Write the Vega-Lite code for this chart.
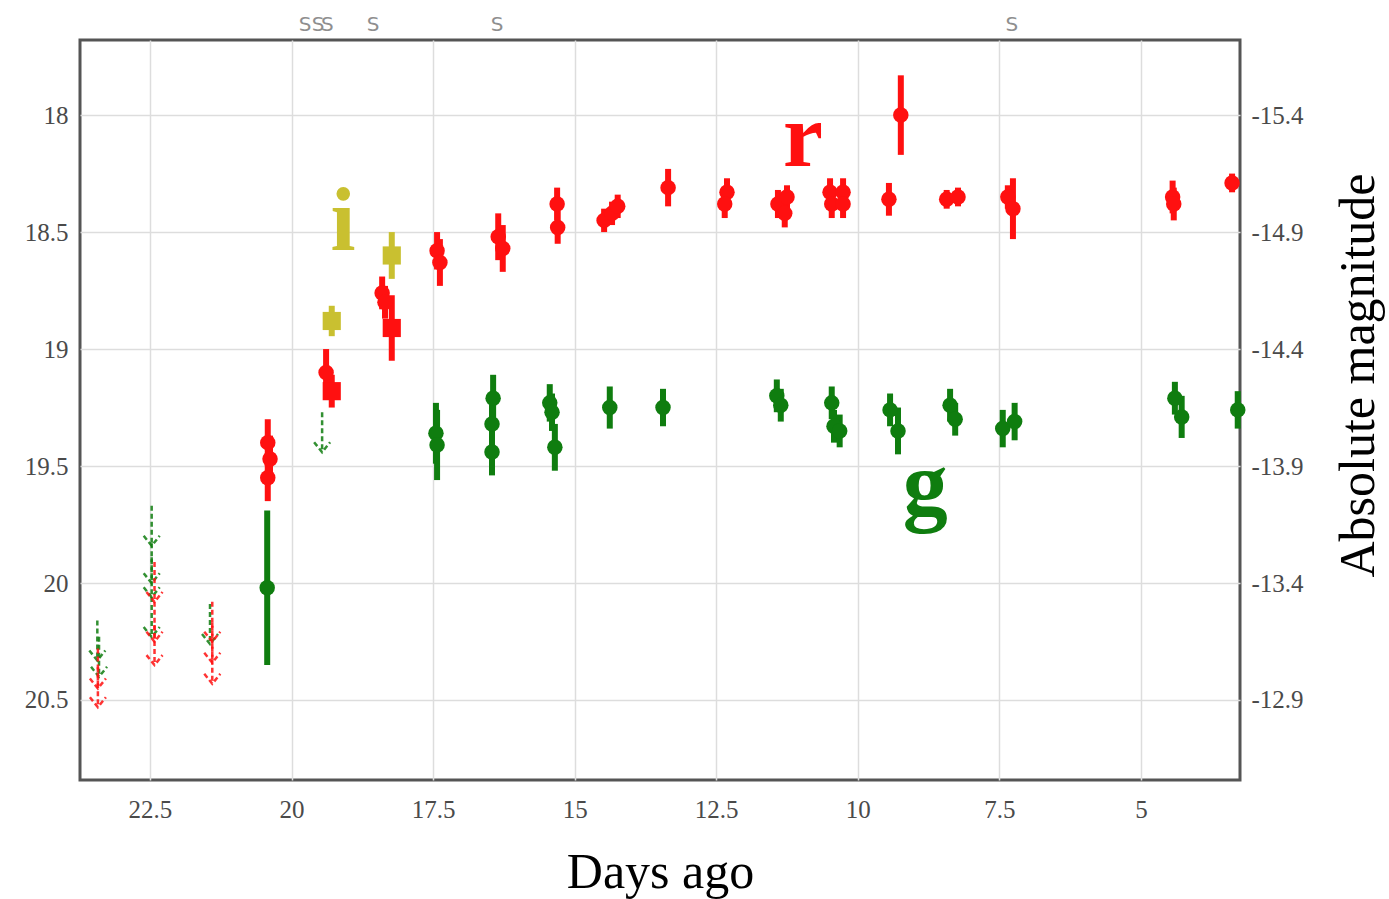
{
  "$schema": "https://vega.github.io/schema/vega-lite/v6.json",
  "width": 1160,
  "height": 740,
  "autosize": {"type": "none"},
  "padding": {"left": 80, "top": 40, "right": 149, "bottom": 119},
  "background": "white",
  "config": {
    "view": {"stroke": "#555", "strokeWidth": 3},
    "axis": {
      "labelFont": "Liberation Serif",
      "titleFont": "Liberation Serif",
      "labelColor": "#4a4a4a",
      "labelFontSize": 25,
      "titleFontSize": 50,
      "titleColor": "#000",
      "titleFontWeight": "normal",
      "gridColor": "#dddddd",
      "gridWidth": 1.5,
      "domain": false,
      "ticks": false
    }
  },
  "datasets": {
    "det": [
      {"day": 19.29, "mag": 18.88, "err": 0.065, "band": "i", "kind": "sq"},
      {"day": 18.23, "mag": 18.60, "err": 0.10, "band": "i", "kind": "sq"},
      {"day": 20.43, "mag": 20.02, "err": 0.33, "band": "g", "kind": "ci"},
      {"day": 17.45, "mag": 19.36, "err": 0.13, "band": "g", "kind": "ci"},
      {"day": 17.43, "mag": 19.41, "err": 0.15, "band": "g", "kind": "ci"},
      {"day": 16.44, "mag": 19.21, "err": 0.10, "band": "g", "kind": "ci"},
      {"day": 16.46, "mag": 19.32, "err": 0.10, "band": "g", "kind": "ci"},
      {"day": 16.46, "mag": 19.44, "err": 0.10, "band": "g", "kind": "ci"},
      {"day": 15.44, "mag": 19.23, "err": 0.08, "band": "g", "kind": "ci"},
      {"day": 15.40, "mag": 19.27, "err": 0.08, "band": "g", "kind": "ci"},
      {"day": 15.35, "mag": 19.42, "err": 0.10, "band": "g", "kind": "ci"},
      {"day": 14.38, "mag": 19.25, "err": 0.09, "band": "g", "kind": "ci"},
      {"day": 13.44, "mag": 19.25, "err": 0.08, "band": "g", "kind": "ci"},
      {"day": 11.43, "mag": 19.20, "err": 0.07, "band": "g", "kind": "ci"},
      {"day": 11.36, "mag": 19.24, "err": 0.07, "band": "g", "kind": "ci"},
      {"day": 10.46, "mag": 19.23, "err": 0.07, "band": "g", "kind": "ci"},
      {"day": 10.42, "mag": 19.33, "err": 0.07, "band": "g", "kind": "ci"},
      {"day": 10.32, "mag": 19.35, "err": 0.07, "band": "g", "kind": "ci"},
      {"day": 9.43, "mag": 19.26, "err": 0.07, "band": "g", "kind": "ci"},
      {"day": 9.29, "mag": 19.35, "err": 0.10, "band": "g", "kind": "ci"},
      {"day": 8.37, "mag": 19.24, "err": 0.07, "band": "g", "kind": "ci"},
      {"day": 8.28, "mag": 19.30, "err": 0.07, "band": "g", "kind": "ci"},
      {"day": 7.44, "mag": 19.34, "err": 0.08, "band": "g", "kind": "ci"},
      {"day": 7.23, "mag": 19.31, "err": 0.08, "band": "g", "kind": "ci"},
      {"day": 4.40, "mag": 19.21, "err": 0.07, "band": "g", "kind": "ci"},
      {"day": 4.28, "mag": 19.29, "err": 0.09, "band": "g", "kind": "ci"},
      {"day": 3.29, "mag": 19.26, "err": 0.08, "band": "g", "kind": "ci"},
      {"day": 20.42, "mag": 19.40, "err": 0.10, "band": "r", "kind": "ci"},
      {"day": 20.38, "mag": 19.47, "err": 0.10, "band": "r", "kind": "ci"},
      {"day": 20.42, "mag": 19.55, "err": 0.10, "band": "r", "kind": "ci"},
      {"day": 19.39, "mag": 19.10, "err": 0.10, "band": "r", "kind": "ci"},
      {"day": 19.29, "mag": 19.18, "err": 0.07, "band": "r", "kind": "sq"},
      {"day": 18.40, "mag": 18.76, "err": 0.07, "band": "r", "kind": "ci"},
      {"day": 18.35, "mag": 18.80, "err": 0.07, "band": "r", "kind": "ci"},
      {"day": 18.23, "mag": 18.91, "err": 0.14, "band": "r", "kind": "sq"},
      {"day": 17.43, "mag": 18.58, "err": 0.08, "band": "r", "kind": "ci"},
      {"day": 17.38, "mag": 18.63, "err": 0.10, "band": "r", "kind": "ci"},
      {"day": 16.35, "mag": 18.52, "err": 0.10, "band": "r", "kind": "ci"},
      {"day": 16.27, "mag": 18.57, "err": 0.10, "band": "r", "kind": "ci"},
      {"day": 15.31, "mag": 18.38, "err": 0.07, "band": "r", "kind": "ci"},
      {"day": 15.30, "mag": 18.48, "err": 0.07, "band": "r", "kind": "ci"},
      {"day": 14.48, "mag": 18.45, "err": 0.05, "band": "r", "kind": "ci"},
      {"day": 14.34, "mag": 18.42, "err": 0.05, "band": "r", "kind": "ci"},
      {"day": 14.24, "mag": 18.39, "err": 0.05, "band": "r", "kind": "ci"},
      {"day": 13.35, "mag": 18.31, "err": 0.08, "band": "r", "kind": "ci"},
      {"day": 12.31, "mag": 18.33, "err": 0.06, "band": "r", "kind": "ci"},
      {"day": 12.35, "mag": 18.38, "err": 0.06, "band": "r", "kind": "ci"},
      {"day": 11.41, "mag": 18.38, "err": 0.06, "band": "r", "kind": "ci"},
      {"day": 11.25, "mag": 18.35, "err": 0.05, "band": "r", "kind": "ci"},
      {"day": 11.29, "mag": 18.42, "err": 0.06, "band": "r", "kind": "ci"},
      {"day": 10.49, "mag": 18.33, "err": 0.06, "band": "r", "kind": "ci"},
      {"day": 10.26, "mag": 18.33, "err": 0.06, "band": "r", "kind": "ci"},
      {"day": 10.46, "mag": 18.38, "err": 0.06, "band": "r", "kind": "ci"},
      {"day": 10.26, "mag": 18.38, "err": 0.06, "band": "r", "kind": "ci"},
      {"day": 9.24, "mag": 18.00, "err": 0.17, "band": "r", "kind": "ci"},
      {"day": 9.45, "mag": 18.36, "err": 0.07, "band": "r", "kind": "ci"},
      {"day": 8.43, "mag": 18.36, "err": 0.04, "band": "r", "kind": "ci"},
      {"day": 8.23, "mag": 18.35, "err": 0.04, "band": "r", "kind": "ci"},
      {"day": 7.35, "mag": 18.35, "err": 0.05, "band": "r", "kind": "ci"},
      {"day": 7.26, "mag": 18.40, "err": 0.13, "band": "r", "kind": "ci"},
      {"day": 4.44, "mag": 18.35, "err": 0.07, "band": "r", "kind": "ci"},
      {"day": 4.42, "mag": 18.38, "err": 0.07, "band": "r", "kind": "ci"},
      {"day": 3.39, "mag": 18.29, "err": 0.04, "band": "r", "kind": "ci"}
    ],
    "lim": [
      {"day": 23.43, "mag": 20.16, "band": "g"},
      {"day": 23.40, "mag": 20.23, "band": "g"},
      {"day": 23.42, "mag": 20.28, "band": "r"},
      {"day": 23.42, "mag": 20.36, "band": "r"},
      {"day": 22.47, "mag": 19.67, "band": "g"},
      {"day": 22.47, "mag": 19.83, "band": "g"},
      {"day": 22.47, "mag": 19.89, "band": "g"},
      {"day": 22.47, "mag": 20.06, "band": "g"},
      {"day": 22.42, "mag": 19.91, "band": "r"},
      {"day": 22.42, "mag": 20.08, "band": "r"},
      {"day": 22.42, "mag": 20.18, "band": "r"},
      {"day": 21.44, "mag": 20.09, "band": "g"},
      {"day": 21.40, "mag": 20.08, "band": "r"},
      {"day": 21.40, "mag": 20.17, "band": "r"},
      {"day": 21.40, "mag": 20.26, "band": "r"},
      {"day": 19.46, "mag": 19.27, "band": "g"}
    ],
    "labels": [
      {"day": 10.97, "mag": 18.218, "text": "r", "band": "r"},
      {"day": 8.81, "mag": 19.709, "text": "g", "band": "g"},
      {"day": 19.09, "mag": 18.577, "text": "i", "band": "i"}
    ],
    "spectra": [
      {"day": 19.76}, {"day": 19.53}, {"day": 19.37}, {"day": 18.56}, {"day": 16.37}, {"day": 7.28}
    ]
  },
  "layer": [
    {
      "layer": [
        {
          "data": {"name": "lim"},
          "mark": {
            "type": "point",
            "shape": "M0,0L0,2M-0.4,1.5L0,2L0.4,1.5",
            "filled": false,
            "size": 1600,
            "strokeWidth": 2.5,
            "strokeDash": [5, 3],
            "opacity": 0.85
          },
          "encoding": {
            "x": {"field": "day", "type": "quantitative",
              "scale": {"domain": [3.25, 23.736], "reverse": true, "nice": false, "zero": false},
              "axis": {"values": [22.5, 20, 17.5, 15, 12.5, 10, 7.5, 5], "format": ".1~f", "grid": true, "title": "Days ago", "labelPadding": 17, "titleY": 92, "titleBaseline": "middle"}},
            "y": {"field": "mag", "type": "quantitative",
              "scale": {"domain": [17.679, 20.842], "reverse": true, "nice": false, "zero": false},
              "axis": {"values": [18, 18.5, 19, 19.5, 20, 20.5], "format": ".1~f", "grid": true, "title": null, "labelPadding": 12}},
            "color": {"field": "band", "type": "nominal",
              "scale": {"domain": ["r", "g", "i"], "range": ["#ff1010", "#0f7d0f", "#c9c030"]}, "legend": null}
          }
        },
        {
          "data": {"name": "det"},
          "mark": {"type": "errorbar", "thickness": 6},
          "encoding": {
            "x": {"field": "day", "type": "quantitative"},
            "y": {"field": "mag", "type": "quantitative", "title": null},
            "yError": {"field": "err"},
            "color": {"field": "band", "type": "nominal", "legend": null}
          }
        },
        {
          "data": {"name": "det"},
          "mark": {"type": "point", "filled": true, "opacity": 1},
          "encoding": {
            "x": {"field": "day", "type": "quantitative"},
            "y": {"field": "mag", "type": "quantitative"},
            "color": {"field": "band", "type": "nominal", "legend": null},
            "shape": {"field": "kind", "type": "nominal", "scale": {"domain": ["ci", "sq"], "range": ["circle", "square"]}, "legend": null},
            "size": {"field": "kind", "type": "nominal", "scale": {"domain": ["ci", "sq"], "range": [240, 330]}, "legend": null}
          }
        },
        {
          "data": {"name": "labels"},
          "mark": {"type": "text", "font": "Liberation Serif", "fontWeight": "bold", "fontSize": 90, "align": "center", "baseline": "alphabetic"},
          "encoding": {
            "x": {"field": "day", "type": "quantitative"},
            "y": {"field": "mag", "type": "quantitative"},
            "text": {"field": "text"},
            "color": {"field": "band", "type": "nominal", "legend": null}
          }
        },
        {
          "data": {"name": "spectra"},
          "mark": {"type": "text", "text": "S", "font": "DejaVu Sans", "fontSize": 20, "color": "#8f8f8f", "align": "center", "baseline": "alphabetic"},
          "encoding": {
            "x": {"field": "day", "type": "quantitative"},
            "y": {"datum": 17.64, "type": "quantitative"}
          }
        }
      ]
    },
    {
      "data": {"values": [{}]},
      "mark": {"type": "point", "opacity": 0},
      "encoding": {
        "x": {"datum": 10, "type": "quantitative"},
        "y": {"datum": -14, "type": "quantitative",
          "scale": {"domain": [-15.721, -12.558], "reverse": true, "nice": false, "zero": false},
          "axis": {"orient": "right", "values": [-15.4, -14.9, -14.4, -13.9, -13.4, -12.9],
            "labelExpr": "'-' + format(abs(datum.value), '.1f')",
            "grid": false, "labelPadding": 11, "title": "Absolute magnitude",
            "titleAngle": 270, "titleX": 118, "titleY": 335, "titleAlign": "center", "titleBaseline": "middle"}}
      }
    }
  ],
  "resolve": {"scale": {"y": "independent"}, "axis": {"y": "independent"}}
}
